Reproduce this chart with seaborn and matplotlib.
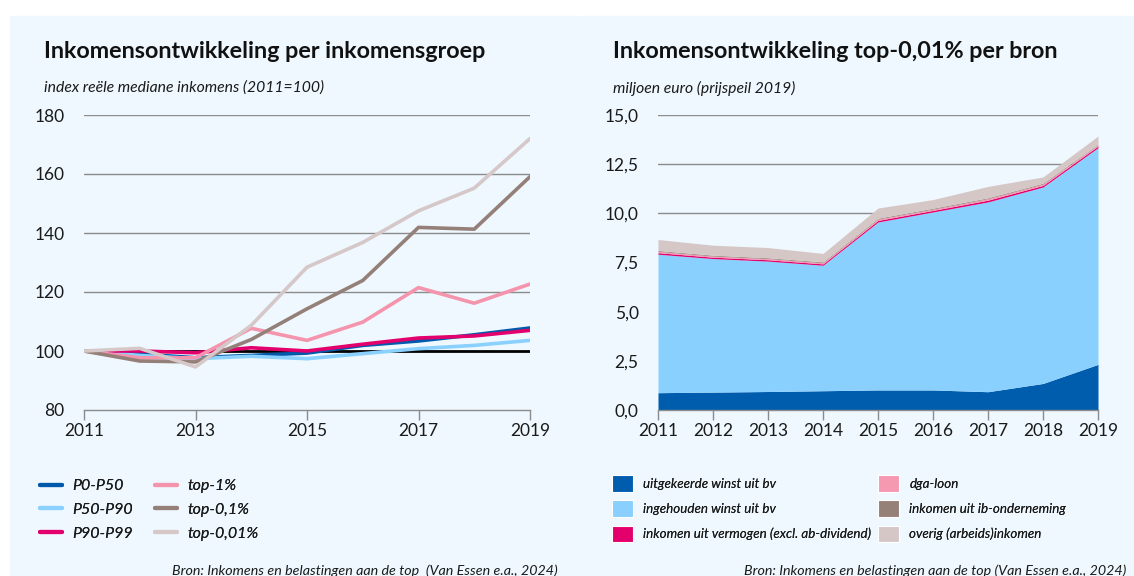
import matplotlib
matplotlib.use("Agg")
import matplotlib.pyplot as plt
from matplotlib.patches import Rectangle
from matplotlib.lines import Line2D
import seaborn as sns
import pandas as pd

# data
jaren = [2011, 2012, 2013, 2014, 2015, 2016, 2017, 2018, 2019]

p0_p50 = [100, 99.0, 97.7, 98.5, 99.3, 101.9, 103.4, 105.5, 107.8]
p50_p90 = [100, 98.5, 97.4, 98.2, 97.4, 99.1, 100.8, 101.9, 103.6]
p90_p99 = [100, 100.0, 99.4, 101.1, 100.0, 102.3, 104.4, 105.1, 107.0]
top_1 = [100, 97.7, 97.7, 107.7, 103.6, 109.8, 121.5, 116.2, 122.7]
top_01 = [100, 96.6, 96.3, 103.9, 114.3, 123.9, 141.9, 141.3, 159.1]
top_001 = [100, 100.9, 94.6, 108.7, 128.4, 136.8, 147.5, 155.2, 172.0]

uitgekeerd = [0.88, 0.91, 0.94, 0.98, 1.02, 1.02, 0.93, 1.35, 2.32]
ingehouden = [7.04, 6.79, 6.63, 6.38, 8.54, 9.05, 9.65, 9.99, 11.02]
vermogen = [0.08, 0.07, 0.07, 0.07, 0.08, 0.08, 0.09, 0.08, 0.08]
dga_loon = [0.07, 0.06, 0.06, 0.06, 0.07, 0.07, 0.08, 0.07, 0.06]
ib_onderneming = [0.04, 0.04, 0.04, 0.04, 0.04, 0.04, 0.04, 0.04, 0.03]
overig = [0.56, 0.51, 0.52, 0.43, 0.52, 0.44, 0.58, 0.32, 0.42]

groepen = ['P0-P50', 'P50-P90', 'P90-P99', 'top-1%', 'top-0,1%', 'top-0,01%']
groep_kleuren = ['#0059ab', '#8bd1ff', '#e3006d', '#f594ad', '#958079', '#d6c8c8']
bronnen = ['uitgekeerde winst uit bv', 'ingehouden winst uit bv',
           'inkomen uit vermogen (excl. ab-dividend)', 'dga-loon',
           'inkomen uit ib-onderneming', 'overig (arbeids)inkomen']
bron_kleuren = ['#005cad', '#8ad0ff', '#e3006d', '#f599b0', '#968179', '#d6c7c7']

bg = '#eef8fe'
grid_col = '#8c8c8c'

sns.set_theme(style='white')
plt.rcParams['font.family'] = ['Lato', 'DejaVu Sans']

W, H = 1134, 576
fig = plt.figure(figsize=(W / 100, H / 100), dpi=100)
fig.patch.set_facecolor('white')
fig.patches.append(Rectangle((10 / W, 0), 567.5 / W, 1 - 16 / H,
                             transform=fig.transFigure, color=bg, zorder=-5))
fig.patches.append(Rectangle((579 / W, 0), 555 / W, 1 - 16 / H,
                             transform=fig.transFigure, color=bg, zorder=-5))

ax1 = fig.add_axes([84 / W, 1 - 410 / H, 446 / W, 295 / H])
ax2 = fig.add_axes([658 / W, 1 - 410 / H, 440 / W, 295 / H])

# left: lines per income group
df = pd.DataFrame({'jaar': jaren * 6,
                   'index': p0_p50 + p50_p90 + p90_p99 + top_1 + top_01 + top_001,
                   'groep': [g for g in groepen for _ in jaren]})
for y in [120, 140, 160, 180]:
    ax1.axhline(y, color=grid_col, lw=1, zorder=1)
ax1.axhline(100, color='black', lw=2, zorder=2)
sns.lineplot(data=df, x='jaar', y='index', hue='groep', hue_order=groepen,
             palette=groep_kleuren, lw=2.6, ax=ax1, legend=False, zorder=3)
ax1.set_xlim(2011, 2019)
ax1.set_ylim(80, 180)
ax1.set_xticks([2011, 2013, 2015, 2017, 2019])
ax1.set_yticks([80, 100, 120, 140, 160, 180])

# right: stacked area per source
stack = [uitgekeerd, ingehouden, vermogen, dga_loon, ib_onderneming, overig]
for y in [12.5, 15.0]:
    ax2.axhline(y, color=grid_col, lw=1, zorder=0)
ax2.axhline(10.0, xmin=0, xmax=(2014.95 - 2011) / 8, color=grid_col, lw=1, zorder=1)
ax2.stackplot(jaren, *stack, colors=bron_kleuren, lw=0, zorder=2)
ax2.set_xlim(2011, 2019)
ax2.set_ylim(0, 15)
ax2.set_xticks(jaren)
yt = [0, 2.5, 5, 7.5, 10, 12.5, 15]
ax2.set_yticks(yt)
ax2.set_yticklabels([f'{v:.1f}'.replace('.', ',') for v in yt])

for ax in (ax1, ax2):
    ax.set_facecolor('none')
    ax.set_xlabel('')
    ax.set_ylabel('')
    for s in ['top', 'right', 'left']:
        ax.spines[s].set_visible(False)
    ax.spines['bottom'].set_color(grid_col)
    ax.spines['bottom'].set_linewidth(1)
    ax.spines['bottom'].set_zorder(5)
    ax.tick_params(axis='x', bottom=True, length=7, width=1, color=grid_col,
                   labelsize=12.5, pad=2, labelcolor='#1a1a1a')
    ax.tick_params(axis='y', left=False, labelsize=12.5, pad=8, labelcolor='#1a1a1a')

# titles
fig.text(44 / W, 1 - 52 / H, 'Inkomensontwikkeling per inkomensgroep',
         fontsize=16.8, fontweight='bold', va='center', color='#111111')
fig.text(44 / W, 1 - 88 / H, 'index reële mediane inkomens (2011=100)',
         fontsize=11.3, style='italic', va='center', color='#1a1a1a')
fig.text(613 / W, 1 - 52 / H, 'Inkomensontwikkeling top-0,01% per bron',
         fontsize=16.8, fontweight='bold', va='center', color='#111111')
fig.text(613 / W, 1 - 88 / H, 'miljoen euro (prijspeil 2019)',
         fontsize=11.3, style='italic', va='center', color='#1a1a1a')

# legends, one per column
def kolom(handles, labels, x, y, prop, **kw):
    leg = fig.legend(handles, labels, loc='upper left', bbox_to_anchor=(x / W, 1 - y / H),
                     frameon=False, prop=prop, borderaxespad=0, borderpad=0, **kw)
    for t in leg.get_texts():
        t.set_color('#1a1a1a')
    fig.add_artist(leg)
    return leg

p1 = {'size': 11.5, 'style': 'italic', 'weight': 'normal'}
h1 = [Line2D([], [], color=c, lw=3) for c in groep_kleuren]
kolom(h1[:3], groepen[:3], 40, 479, p1, handlelength=1.4, handletextpad=0.6, labelspacing=0.6)
kolom(h1[3:], groepen[3:], 155, 479, p1, handlelength=1.4, handletextpad=0.6, labelspacing=0.6)

p2 = {'size': 9.6, 'style': 'italic', 'weight': 'normal'}
h2 = [Rectangle((0, 0), 1, 1, facecolor=c, edgecolor='white', lw=0.8) for c in bron_kleuren]
kolom(h2[:3], bronnen[:3], 612, 475, p2, handlelength=1.6, handleheight=1.55,
      handletextpad=0.75, labelspacing=0.65)
kolom(h2[3:], bronnen[3:], 878, 475, p2, handlelength=1.6, handleheight=1.55,
      handletextpad=0.75, labelspacing=0.65)

fig.text(558 / W, 1 - 571 / H, 'Bron: Inkomens en belastingen aan de top  (Van Essen e.a., 2024)',
         fontsize=10.3, style='italic', ha='right', va='center', color='#1a1a1a')
fig.text(1126 / W, 1 - 571 / H, 'Bron: Inkomens en belastingen aan de top (Van Essen e.a., 2024)',
         fontsize=10.3, style='italic', ha='right', va='center', color='#1a1a1a')

fig.savefig('out.png', dpi=100)
